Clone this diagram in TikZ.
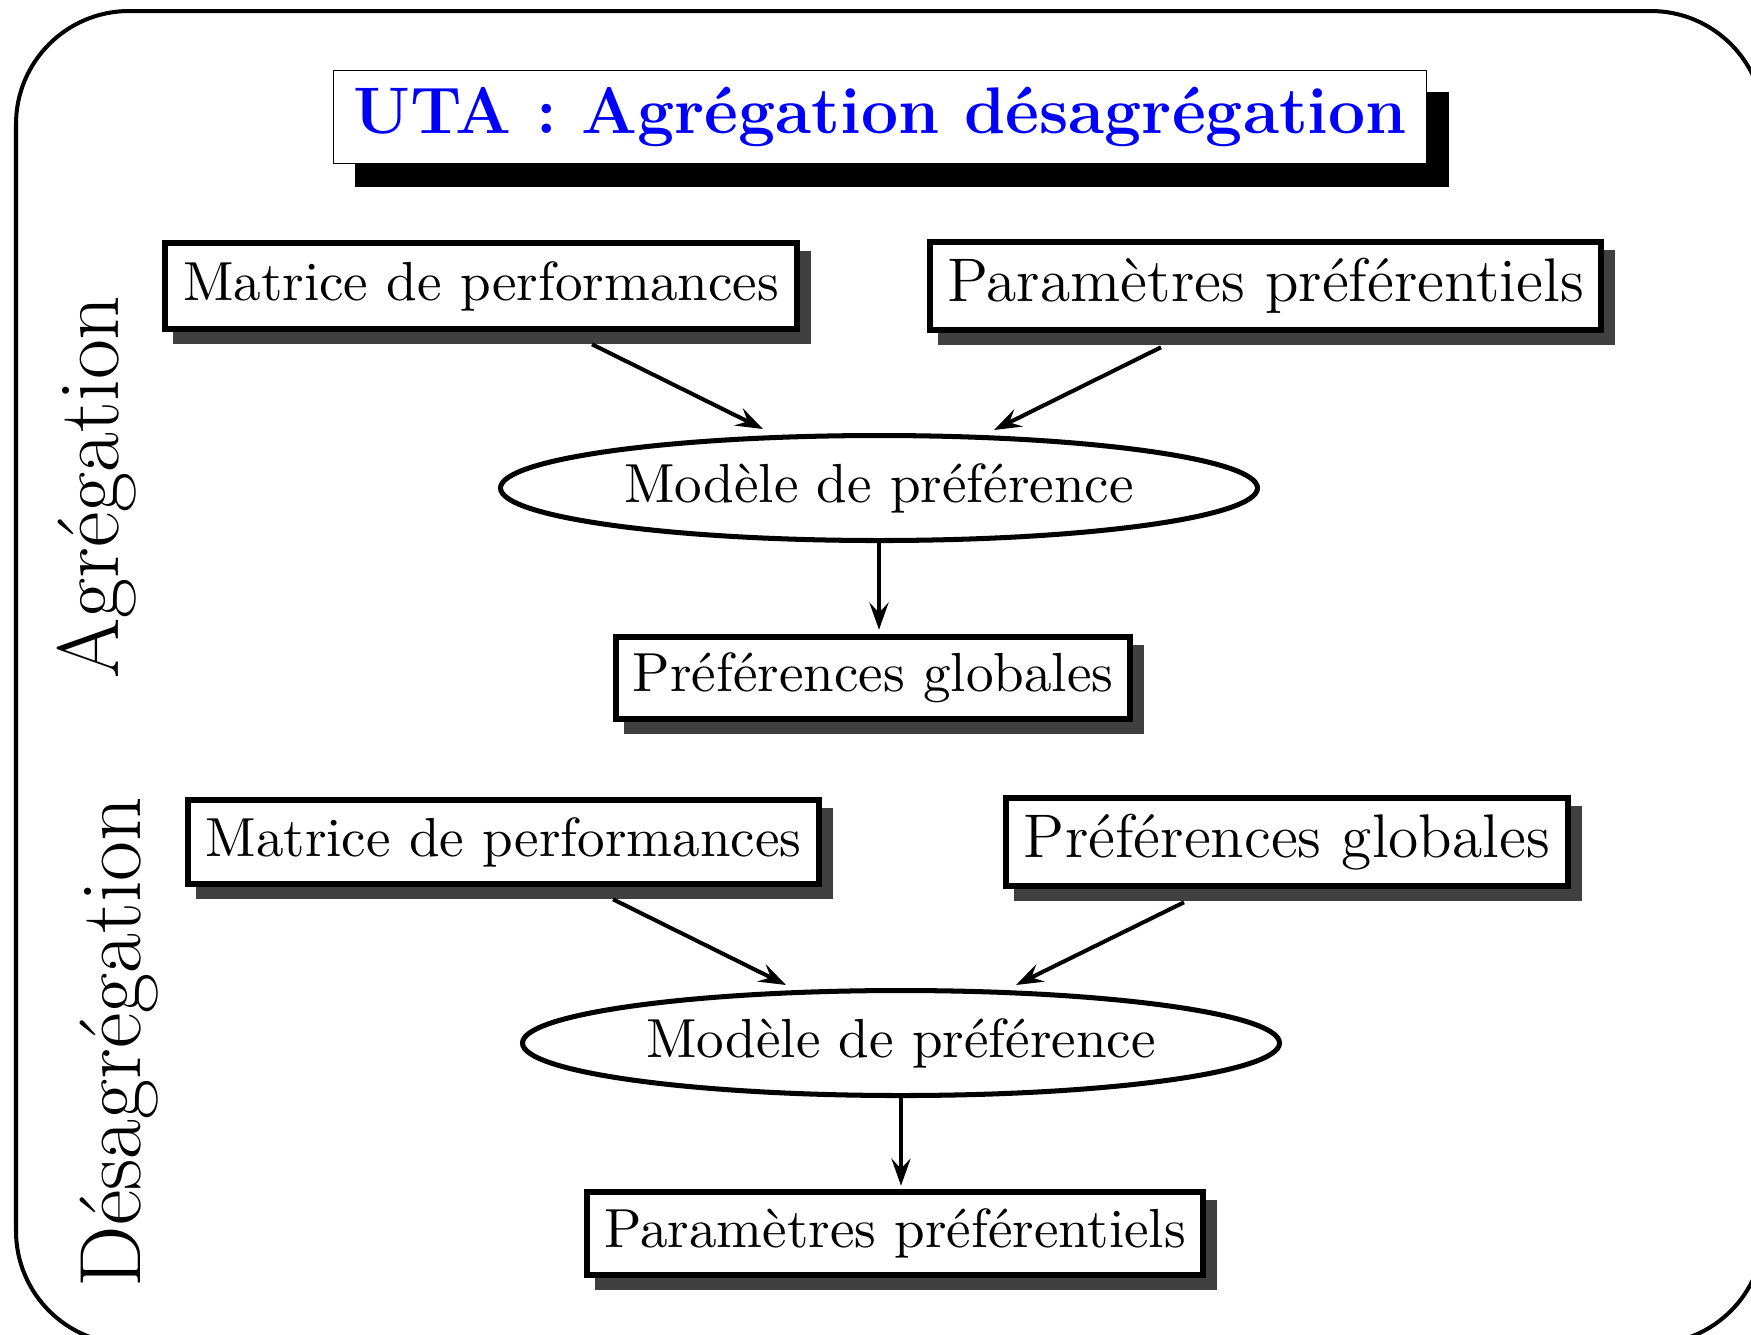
\documentclass[tikz,border=0pt]{standalone}
\usetikzlibrary{shapes.geometric,shadows,arrows.meta,calc}
\definecolor{shgray}{HTML}{404040}
\definecolor{titleblue}{RGB}{0,0,255}
\begin{document}
\begin{tikzpicture}[x=0.1988pt,y=-0.1988pt,
  box/.style={draw, line width=1.2pt, fill=white, inner sep=0pt,
    font=\fontsize{10.95}{13}\selectfont,
    drop shadow={shadow xshift=2.2pt, shadow yshift=-2.3pt, fill=shgray, draw=shgray, line width=1.2pt, opacity=1}},
  bigbox/.style={box, font=\fontsize{12.25}{14}\selectfont},
  titlebox/.style={draw, line width=0.3pt, fill=white, inner sep=0pt,
    font=\fontsize{13.1}{15}\selectfont\bfseries, text=titleblue,
    drop shadow={shadow xshift=4.4pt, shadow yshift=-4.5pt, fill=black, draw=black, line width=0.3pt, opacity=1}},
  model/.style={ellipse, draw, line width=1pt, inner sep=0pt,
    minimum width=757*0.1988pt, minimum height=105*0.1988pt,
    font=\fontsize{10.95}{13}\selectfont},
  side/.style={rotate=90, font=\fontsize{17.28}{20}\selectfont, inner sep=0pt},
  arr/.style={line width=0.8pt, -{Stealth[length=5.4pt, width=3.8pt, inset=2pt]}}
  ]
\useasboundingbox (0,0) rectangle (1751,1334);
\draw[line width=0.8pt, rounded corners=22.5pt] (16,11) rectangle (1764,1344);

\node[titlebox, minimum width=1093*0.1988pt, minimum height=93*0.1988pt] (T) at (880,117) {UTA : Agrégation désagrégation};

\node[side] (LA) at (97,487) {Agrégation};
\node[side] (LD) at (119,1042) {Désagrégation};

% Agrégation
\node[box, minimum width=632.5*0.1988pt, minimum height=86.5*0.1988pt] (A1) at (481,286) {Matrice de performances};
\node[bigbox, minimum width=671.5*0.1988pt, minimum height=88.5*0.1988pt] (A2) at (1265.5,286) {Paramètres préférentiels};
\node[model] (EA) at (879,488) {Modèle de préférence};
\node[box, minimum width=514.5*0.1988pt, minimum height=82.5*0.1988pt] (A3) at (873,678) {Préférences globales};

\draw[arr] ($(A1.south)+(111,12)$) -- ($(EA.north)+(-116,-4)$);
\draw[arr] ($(A2.south)+(-104.5,14)$) -- ($(EA.north)+(115,-3)$);
\draw[arr] (EA.south) -- ($(EA.south |- A3.north)+(0,-4)$);

% Désagrégation
\node[box, minimum width=631.5*0.1988pt, minimum height=84.5*0.1988pt] (B1) at (503.5,842) {Matrice de performances};
\node[bigbox, minimum width=562*0.1988pt, minimum height=88.5*0.1988pt] (B2) at (1287,842) {Préférences globales};
\node[model] (EB) at (901,1043) {Modèle de préférence};
\node[box, minimum width=616.5*0.1988pt, minimum height=83.5*0.1988pt] (B3) at (895,1233.5) {Paramètres préférentiels};

\draw[arr] ($(B1.south)+(109.5,12)$) -- ($(EB.north)+(-115,-3)$);
\draw[arr] ($(B2.south)+(-103,13)$) -- ($(EB.north)+(115,-3)$);
\draw[arr] (EB.south) -- ($(EB.south |- B3.north)+(0,-3)$);
\end{tikzpicture}
\end{document}
